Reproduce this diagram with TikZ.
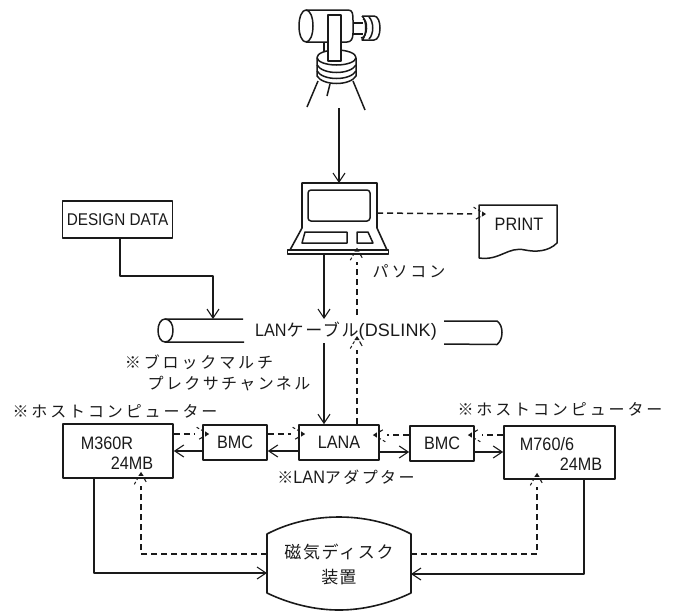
\documentclass[tikz,border=0pt]{standalone}
\usepackage{fontspec}
\usetikzlibrary{calc,arrows.meta,decorations.markings}
\setmainfont[FakeStretch=0.9]{Liberation Sans}
\newfontfamily\spreadlatin[LetterSpace=1]{Liberation Sans}
\newfontfamily\cjk{Noto Sans CJK JP}
\newfontfamily\cjkwide[LetterSpace=18]{Noto Sans CJK JP}
\newfontfamily\cjkmid[LetterSpace=15]{Noto Sans CJK JP}
\newfontfamily\cjktight[LetterSpace=6]{Noto Sans CJK JP}
\newfontfamily\cjkcable[LetterSpace=10]{Noto Sans CJK JP}
\definecolor{ink}{HTML}{1A1A1A}
\tikzset{
  x=1pt,y=-1pt,
  every path/.style={line join=round},
  openhead/.style={-{Straight Barb[length=9pt,width=12pt,line width=1.1pt]}},
  route/.style={draw=ink,line width=1.5pt},
  plainlink/.style={route,openhead},
  dashroute/.style={draw=ink,line width=1.5pt,dash pattern=on 6pt off 4pt},
  dashlink/.style={dashroute,shorten >=7pt,
    postaction={decorate,decoration={markings,mark=at position 1 with {
      \fill[ink,draw=none] (7pt,0)--(3pt,2.6pt)--(3pt,-2.6pt)--cycle;
      \draw[solid,draw=ink,line width=1pt] (1.5pt,2.6pt)--(-1pt,4.2pt) (-3pt,5.2pt)--(-5.5pt,6.8pt)
                                   (1.5pt,-2.6pt)--(-1pt,-4.2pt) (-3pt,-5.2pt)--(-5.5pt,-6.8pt);
    }}}},
  unit/.style={draw=ink,line width=1.7pt,fill=white,inner sep=0pt,text=ink,font=\fontsize{18}{20}\selectfont},
  label/.style={inner sep=0pt,text=ink,font=\fontsize{16}{20}\selectfont},
  boxtext/.style={inner sep=0pt,text=ink,font=\fontsize{18}{20}\selectfont},
  sketch/.style={draw=ink,line width=1.5pt},
}
\begin{document}
\begin{tikzpicture}
\useasboundingbox (0,0) rectangle (676,611);

% surveying camera on its tripod
\begin{scope}[sketch]
  \draw[sketch] (306,10) -- (348,10) .. controls (353,10) and (353,14) .. (353,22) -- (353,33)
        .. controls (353,39) and (351,42) .. (347,42) -- (306,42);
  \draw[sketch] (306,10) .. controls (302,10) and (299,17) .. (299,26) .. controls (299,35) and (302,42) .. (306,42)
        .. controls (310,42) and (313,35) .. (313,26) .. controls (313,17) and (310,10) .. (306,10);
  \draw[sketch] (353,23) -- (363,23) (353,34) -- (363,34);
  \draw[sketch] (363,19) .. controls (368,19) and (368,38) .. (361,38);
  \draw[sketch] (362,16) -- (374,16) .. controls (382,16) and (382,40) .. (374,40) -- (362,40)
        .. controls (367,36) and (367,20) .. (362,16);
  \draw[sketch] (369,17) .. controls (374,22) and (374,34) .. (369,39);
  \draw[sketch] (324,42) -- (324,52);
  % turntable
  \draw[sketch] (336.5,57.5) ellipse (19.5pt and 7.5pt);
  \draw[sketch] (317,58) -- (317,76) .. controls (323,86) and (350,86) .. (356,76) -- (356,58);
  \draw[sketch] (317,65) .. controls (323,75) and (350,75) .. (356,65);
  \draw[sketch] (317,71) .. controls (323,81) and (350,81) .. (356,71);
  \draw[sketch,fill=white] (328,15) rectangle (341,61);
  % tripod legs
  \draw[sketch] (318,81) -- (307,107) (330,84) -- (327,96) (353,81) -- (365,110);
\end{scope}
\coordinate (camfoot) at (339,108);

% personal computer
\draw[sketch,line width=1.6pt] (302,228) -- (302,183) -- (377,183) -- (377,228) -- (387,250) -- (290,250) -- cycle;
\draw[sketch,rounded corners=3pt] (308,190) rectangle (370,221);
\draw[sketch] (305,232) -- (347,232) -- (347,243) -- (302,243) -- cycle;
\draw[sketch] (357,232) -- (368,232) -- (373,243) -- (357,243) -- cycle;
\node[draw=ink,line width=1.4pt,minimum width=101pt,minimum height=4pt,inner sep=0pt] (pc) at (338,252) {};
\coordinate (pctop) at (339,183);
\coordinate (pcside) at (377,213);
\node[label] (pclabel) at (409,271) {\cjkwide パソコン};

% printed sheet
\draw[sketch] (479,258) -- (479,205) -- (557,205) -- (557,243)
  .. controls (548,252) and (535,252) .. (525,250) .. controls (508,246) and (500,261) .. (479,258);
\coordinate (printin) at (479,214);
\node[boxtext] (printtxt) at (519,224) {PRINT};

% design data
\node[unit,minimum width=110pt,minimum height=37pt] (design) at (117.5,219.5) {\fontsize{17}{18}\selectfont DESIGN DATA};

% LAN cable: two open ends around its label
\node[boxtext] (lan) at (346,331) {LAN{\fontsize{17}{20}\selectfont\cjkcable ケーブル}{\spreadlatin (DSLINK)}};
\draw[sketch] (243,319) -- (165,319) .. controls (161,319) and (158,324) .. (158,330.5)
   .. controls (158,337) and (161,342) .. (165,342) -- (244,342);
\draw[sketch] (165,319) .. controls (170,319) and (173,324) .. (173,330.5)
   .. controls (173,337) and (170,342) .. (165,342);
\draw[sketch] (444,321) -- (497,321) .. controls (500,323) and (502,327) .. (502,332.5)
   .. controls (502,338) and (500,342) .. (497,344.5) -- (444,344);
\coordinate (cableA) at (213,319);
\coordinate (cableB) at (324,319);
\coordinate (cableC) at (324,343);
\coordinate (cableD) at (357,343);
\coordinate (cableE) at (357,315);

\node[label] (block1) at (199,362) {\cjkwide ※ブロックマルチ};
\node[label] (block2) at (229,384) {\cjkmid プレクサチャンネル};
\node[label] (hostL) at (115,411) {\cjkwide ※ホストコンピューター};
\node[label] (hostR) at (560,409) {\cjkwide ※ホストコンピューター};
\node[label] (adapter) at (346,477) {{\cjk ※}{\fontsize{18}{20}\selectfont LAN}{\cjkmid アダプター}};

% equipment boxes
\node[unit,minimum width=110pt,minimum height=54pt] (hostA) at (118,451) {};
\node[boxtext] at (107,443) {M360R};
\node[boxtext] at (132,463) {24MB};
\node[unit,minimum width=64pt,minimum height=35pt] (bmcA) at (235,442.5) {BMC};
\node[unit,minimum width=80pt,minimum height=35pt] (lana) at (339,442.5) {LANA};
\node[unit,minimum width=64pt,minimum height=35pt] (bmcB) at (442,443.5) {BMC};
\node[unit,minimum width=111pt,minimum height=53pt] (hostB) at (559.5,452.5) {};
\node[boxtext] at (547,444) {M760/6};
\node[boxtext] at (581,464) {24MB};

% disk unit
\draw[sketch,line width=1.6pt] (267,534) .. controls (290,522) and (315,517) .. (339,517)
   .. controls (363,517) and (388,522) .. (411,534) -- (411,593)
   .. controls (388,604) and (363,610) .. (339,610)
   .. controls (315,610) and (290,604) .. (267,593) -- cycle;
\coordinate (diskL1) at (267,554);
\coordinate (diskL2) at (267,573);
\coordinate (diskR1) at (411,554);
\coordinate (diskR2) at (411,574);
\node[label,font=\fontsize{17}{20}\selectfont] (disk1) at (339,552) {\fontsize{17}{20}\selectfont\cjkcable 磁気ディスク};
\node[label,font=\fontsize{17}{20}\selectfont] (disk2) at (339,577) {\cjktight 装置};

% connections
\draw[plainlink] (camfoot) -- (pctop);
\draw[dashlink] (pcside) -- (printin);
\draw[plainlink] (design.south -| 120,0) -- (120,276) -- (213,276) -- (cableA);
\draw[plainlink] (pc.south -| cableB) -- (cableB);
\draw[plainlink] (cableC) -- (lana.north -| cableC);
\draw[dashlink] (lana.north -| cableD) -- (cableD);
\draw[dashlink] (cableE) -- (pc.south -| cableE);

\draw[plainlink] (bmcA.west |- 0,451) -- (hostA.east |- 0,451);
\draw[plainlink] (lana.west |- 0,451) -- (bmcA.east |- 0,451);
\draw[plainlink] (lana.east |- 0,452) -- (bmcB.west |- 0,452);
\draw[plainlink] (bmcB.east |- 0,452) -- (hostB.west |- 0,452);
\draw[dashlink] (hostA.east |- 0,434) -- (bmcA.west |- 0,434);
\draw[dashlink] (bmcA.east |- 0,434) -- (lana.west |- 0,434);
\draw[dashlink] (bmcB.west |- 0,435) -- (lana.east |- 0,435);
\draw[dashlink] (hostB.west |- 0,435) -- (bmcB.east |- 0,435);

\draw[plainlink] (hostA.south -| 94,0) -- (94,573) -- (diskL2);
\draw[dashlink] (diskL1) -- (141,554) -- (hostA.south -| 141,0);
\draw[dashlink] (diskR1) -- (537,554) -- (hostB.south -| 537,0);
\draw[plainlink] (hostB.south -| 584,0) -- (584,574) -- (diskR2);
\end{tikzpicture}
\end{document}
